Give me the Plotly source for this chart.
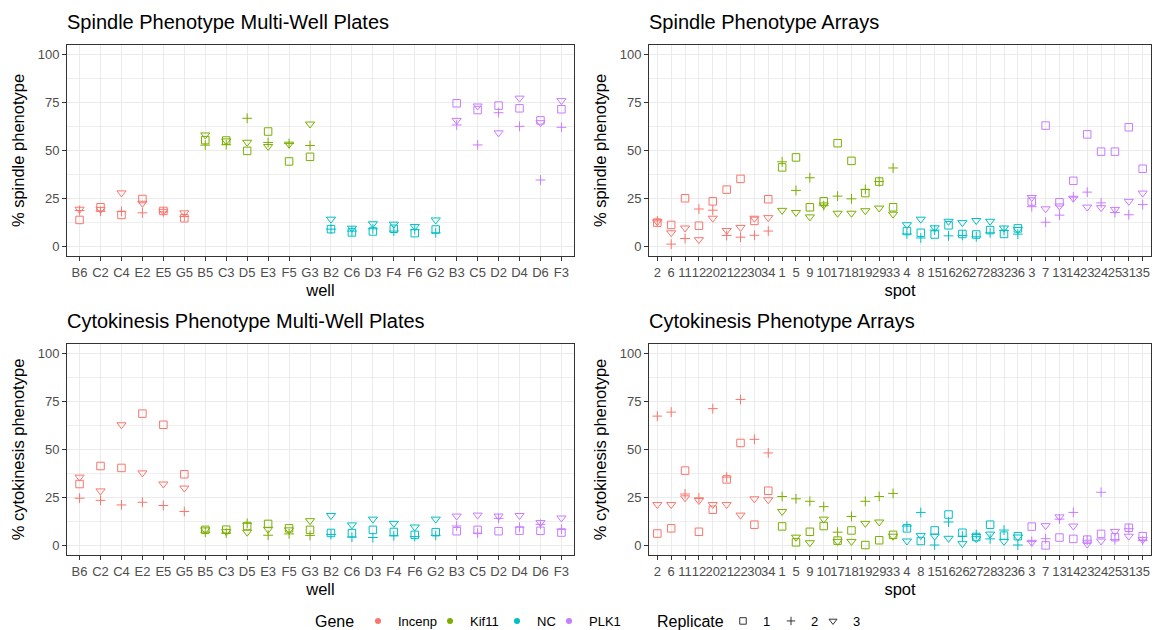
import plotly.graph_objects as go

genes = ["Incenp", "Kif11", "NC", "PLK1"]
gene_colors = ["#F8766D", "#7CAE00", "#00BFC4", "#C77CFF"]
replicates = ["1", "2", "3"]
rep_symbols = ["square-open", "cross-thin-open", "triangle-down-open"]
rep_sizes = [7.5, 7, 8]

wells = ["B6", "C2", "C4", "E2", "E5", "G5",
         "B5", "C3", "D5", "E3", "F5", "G3",
         "B2", "C6", "D3", "F4", "F6", "G2",
         "B3", "C5", "D2", "D4", "D6", "F3"]
well_gene = ["Incenp"] * 6 + ["Kif11"] * 6 + ["NC"] * 6 + ["PLK1"] * 6

spots = ["2", "6", "11", "12", "20", "21", "22", "30", "34",
         "1", "5", "9", "10", "17", "18", "19", "29", "33",
         "4", "8", "15", "16", "26", "27", "28", "32", "36",
         "3", "7", "13", "14", "23", "24", "25", "31", "35"]
spot_gene = ["Incenp"] * 9 + ["Kif11"] * 9 + ["NC"] * 9 + ["PLK1"] * 9

# Spindle phenotype, multi-well plates (replicates 1, 2, 3)
spindle_plates_r1 = [13.8, 20.4, 16.4, 24.7, 18.5, 14.7,
                     55.4, 55.2, 49.8, 59.9, 44.3, 46.7,
                     9.0, 7.3, 7.8, 9.2, 6.9, 8.8,
                     74.6, 71.1, 73.4, 72.0, 65.7, 71.5]
spindle_plates_r2 = [18.7, 18.3, 18.2, 17.5, 18.0, 15.6,
                     52.8, 53.0, 66.8, 54.2, 53.6, 52.6,
                     9.0, 8.0, 9.2, 8.0, 8.7, 7.1,
                     63.3, 52.9, 69.7, 62.6, 34.6, 62.1]
spindle_plates_r3 = [19.4, 19.3, 27.9, 22.5, 18.3, 17.5,
                     58.1, 55.0, 54.3, 52.1, 53.3, 63.8,
                     14.2, 9.5, 11.8, 11.6, 10.4, 13.8,
                     65.7, 73.2, 59.2, 77.3, 64.5, 76.0]

# Spindle phenotype, arrays
spindle_arrays_r1 = [12.4, 11.2, 25.1, 10.8, 23.5, 29.6, 35.2, 13.3, 24.6,
                     41.2, 46.4, 20.4, 23.5, 53.8, 44.6, 27.8, 33.8, 20.4,
                     8.0, 7.1, 6.2, 11.0, 6.5, 6.2, 8.5, 6.5, 9.4,
                     23.4, 63.0, 23.0, 34.2, 58.4, 49.4, 49.4, 62.1, 40.5]
spindle_arrays_r2 = [13.3, 1.2, 4.1, 19.5, 18.9, 5.7, 4.8, 5.8, 8.0,
                     44.1, 29.2, 35.8, 21.2, 26.2, 24.8, 29.7, 33.8, 40.9,
                     6.5, 4.4, 8.5, 5.5, 5.7, 5.0, 7.1, 8.3, 6.4,
                     20.7, 12.6, 16.3, 25.7, 28.3, 22.7, 17.7, 16.5, 21.8]
spindle_arrays_r3 = [12.9, 7.1, 9.6, 3.5, 14.7, 8.3, 9.9, 14.7, 15.0,
                     18.8, 17.7, 15.4, 21.6, 17.3, 17.3, 18.6, 20.0, 16.8,
                     11.3, 14.2, 9.7, 13.1, 12.4, 13.5, 13.1, 9.6, 8.8,
                     25.5, 19.6, 21.1, 25.1, 20.5, 20.2, 19.3, 23.5, 27.8]

# Cytokinesis phenotype, multi-well plates
cyto_plates_r1 = [32.0, 41.4, 40.4, 68.7, 62.9, 37.1,
                  8.1, 8.2, 10.1, 11.2, 8.9, 8.1,
                  6.5, 6.4, 8.1, 7.0, 5.5, 6.9,
                  7.4, 8.1, 7.4, 7.7, 7.6, 6.7]
cyto_plates_r2 = [24.6, 23.5, 21.1, 22.5, 20.8, 17.7,
                  6.9, 6.4, 11.5, 5.3, 6.0, 5.2,
                  5.7, 4.3, 4.1, 5.0, 4.6, 5.2,
                  10.1, 6.4, 14.1, 9.5, 11.0, 8.4]
cyto_plates_r3 = [35.6, 28.4, 62.9, 37.8, 32.0, 29.9,
                  8.1, 7.2, 6.9, 8.4, 8.1, 12.9,
                  15.6, 10.7, 13.7, 11.5, 9.6, 13.7,
                  15.3, 15.8, 15.3, 15.6, 11.9, 14.3]

# Cytokinesis phenotype, arrays
cyto_arrays_r1 = [6.2, 8.9, 39.0, 7.1, 18.6, 34.4, 53.4, 10.8, 28.5,
                  9.9, 1.6, 7.1, 10.1, 2.5, 7.8, 0.2, 2.7, 5.5,
                  8.9, 2.3, 7.8, 16.1, 6.6, 4.4, 10.8, 5.1, 4.8,
                  9.8, 0.0, 4.1, 3.4, 3.0, 6.0, 4.3, 9.2, 4.8]
cyto_arrays_r2 = [67.4, 69.5, 26.8, 24.8, 71.3, 35.6, 76.1, 55.3, 48.2,
                  25.5, 24.3, 23.0, 20.2, 6.9, 15.1, 23.0, 25.5, 27.1,
                  10.1, 17.2, 0.2, 12.2, 4.8, 5.7, 3.4, 8.0, 0.2,
                  2.1, 3.5, 13.7, 17.2, 2.7, 27.7, 3.0, 8.7, 2.5]
cyto_arrays_r3 = [21.3, 21.3, 24.8, 23.4, 21.3, 21.3, 15.8, 24.3, 23.8,
                  17.7, 4.3, 1.4, 13.7, 2.1, 2.1, 11.5, 12.2, 4.8,
                  2.3, 5.1, 4.8, 3.7, 0.9, 3.5, 5.9, 2.1, 4.4,
                  1.6, 10.3, 14.9, 10.1, 0.7, 2.3, 7.3, 4.8, 3.0]

panel_titles = ["Spindle Phenotype Multi-Well Plates", "Spindle Phenotype Arrays",
                "Cytokinesis Phenotype Multi-Well Plates", "Cytokinesis Phenotype Arrays"]
x_titles = ["well", "spot", "well", "spot"]
y_titles = ["% spindle phenotype", "% spindle phenotype",
            "% cytokinesis phenotype", "% cytokinesis phenotype"]
y_ticks = [0, 25, 50, 75, 100]
y_minor = [12.5, 37.5, 62.5, 87.5]

W, H = 1156, 630
FONT = "Liberation Sans, Arial, Helvetica, sans-serif"

panels = [
    (wells, well_gene, [spindle_plates_r1, spindle_plates_r2, spindle_plates_r3]),
    (spots, spot_gene, [spindle_arrays_r1, spindle_arrays_r2, spindle_arrays_r3]),
    (wells, well_gene, [cyto_plates_r1, cyto_plates_r2, cyto_plates_r3]),
    (spots, spot_gene, [cyto_arrays_r1, cyto_arrays_r2, cyto_arrays_r3]),
]

# panel pixel boxes (left, right, top, bottom)
boxes = [(67, 574, 45, 256), (649, 1151, 45, 256),
         (67, 574, 344, 555), (649, 1151, 344, 555)]

fig = go.Figure()

for i, (cats, cgenes, reps) in enumerate(panels):
    sfx = "" if i == 0 else str(i + 1)
    for g, col in zip(genes, gene_colors):
        xs = [c for c, gg in zip(cats, cgenes) if gg == g]
        for r, sym, sz, vals in zip(replicates, rep_symbols, rep_sizes, reps):
            ys = [v for v, gg in zip(vals, cgenes) if gg == g]
            fig.add_trace(go.Scatter(
                x=xs, y=ys, mode="markers",
                marker=dict(symbol=sym, size=sz, color=col,
                            line=dict(color=col, width=1)),
                xaxis="x" + sfx, yaxis="y" + sfx,
                showlegend=False, name=f"{g} rep {r}"))

# legend: one small legend per entry so the spacing can follow the reference
LEG_YPX = 621
LEG_Y = 1 - LEG_YPX / H
legend_cfg = {}
gene_sym_x = [376, 448, 515, 567]
rep_sym_x = [741, 789, 831]
SYM_OFF = 18

def leg_cfg(xpx):
    return dict(orientation="h", x=(xpx - SYM_OFF) / W, xanchor="left",
                y=LEG_Y, yanchor="middle", font=dict(size=13, color="black"),
                itemwidth=30, bgcolor="rgba(0,0,0,0)",
                itemclick=False, itemdoubleclick=False)

for k, (g, col) in enumerate(zip(genes, gene_colors)):
    lname = "legend" if k == 0 else f"legend{k + 1}"
    fig.add_trace(go.Scatter(x=[None], y=[None], mode="markers", name=g,
                             marker=dict(symbol="circle", size=6, color=col),
                             legend=lname, showlegend=True))
    legend_cfg[lname] = leg_cfg(gene_sym_x[k])

for k, (r, sym, sz) in enumerate(zip(replicates, rep_symbols, rep_sizes)):
    lname = f"legend{k + 5}"
    fig.add_trace(go.Scatter(x=[None], y=[None], mode="markers", name=r,
                             marker=dict(symbol=sym, size=sz - 1, color="#333333",
                                         line=dict(color="#333333", width=1)),
                             legend=lname, showlegend=True))
    legend_cfg[lname] = leg_cfg(rep_sym_x[k])

layout = dict(
    width=W, height=H,
    margin=dict(l=0, r=0, t=0, b=0, autoexpand=False),
    paper_bgcolor="white", plot_bgcolor="white",
    font=dict(family=FONT, color="black"),
    annotations=[
        dict(text="Gene", xref="paper", yref="paper", x=313 / W, y=LEG_Y,
             xanchor="left", yanchor="middle", showarrow=False,
             font=dict(size=16, color="black")),
        dict(text="Replicate", xref="paper", yref="paper", x=655 / W, y=LEG_Y,
             xanchor="left", yanchor="middle", showarrow=False,
             font=dict(size=16, color="black")),
    ],
)
layout.update(legend_cfg)

for i, (cats, cgenes, reps) in enumerate(panels):
    sfx = "" if i == 0 else str(i + 1)
    l, r, t, b = boxes[i]
    layout["xaxis" + sfx] = dict(
        domain=[l / W, r / W], anchor="y" + sfx,
        type="category", categoryorder="array", categoryarray=cats,
        tickmode="array", tickvals=cats, ticktext=cats,
        range=[-0.6, len(cats) - 0.4], tickangle=0,
        showline=True, mirror=True, linecolor="#333333", linewidth=1,
        ticks="outside", ticklen=4, tickcolor="#333333", tickwidth=1,
        tickfont=dict(size=13, color="#4D4D4D"),
        showgrid=True, gridcolor="#EBEBEB", gridwidth=1.2, zeroline=False,
        title=dict(text=x_titles[i], font=dict(size=16.5, color="black"), standoff=5),
    )
    layout["yaxis" + sfx] = dict(
        domain=[1 - b / H, 1 - t / H], anchor="x" + sfx,
        range=[-5, 105], tickmode="array", tickvals=y_ticks,
        ticktext=[str(v) for v in y_ticks],
        showline=True, mirror=True, linecolor="#333333", linewidth=1,
        ticks="outside", ticklen=4, tickcolor="#333333", tickwidth=1,
        tickfont=dict(size=13, color="#4D4D4D"),
        showgrid=True, gridcolor="#EBEBEB", gridwidth=1.2, zeroline=False,
        minor=dict(tickvals=y_minor, showgrid=True, gridcolor="#EFEFEF",
                   gridwidth=0.7, ticks=""),
        title=dict(text=y_titles[i], font=dict(size=16.5, color="black"), standoff=8),
    )
    layout["annotations"].append(dict(
        text=panel_titles[i], xref="paper", yref="paper",
        x=(l - 2) / W, y=1 - (t - 23) / H, xanchor="left", yanchor="middle",
        showarrow=False, font=dict(size=20, color="black", family=FONT)))

fig.update_layout(**layout)
fig.write_html("out.html")
